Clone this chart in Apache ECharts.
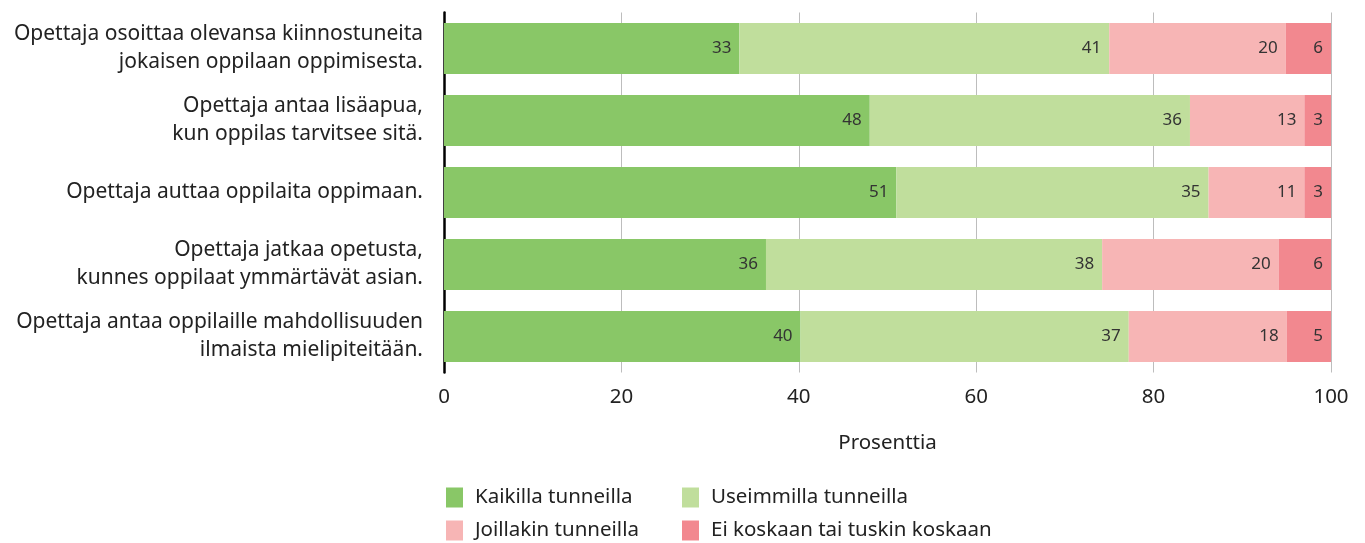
<!DOCTYPE html>
<html><head><meta charset="utf-8">
<script src="https://cdn.jsdelivr.net/npm/echarts@6/dist/echarts.min.js"></script>
<style>html,body{margin:0;padding:0;background:#fff}#c{width:1365px;height:543px}</style>
</head><body><div id="c"></div>
<script>
const categories = [
  'Opettaja osoittaa olevansa kiinnostuneita\njokaisen oppilaan oppimisesta.',
  'Opettaja antaa lisäapua,\nkun oppilas tarvitsee sitä.',
  'Opettaja auttaa oppilaita oppimaan.',
  'Opettaja jatkaa opetusta,\nkunnes oppilaat ymmärtävät asian.',
  'Opettaja antaa oppilaille mahdollisuuden\nilmaista mielipiteitään.'
];
const seriesNames = ['Kaikilla tunneilla','Useimmilla tunneilla','Joillakin tunneilla','Ei koskaan tai tuskin koskaan'];
// bar lengths
const kaikilla   = [33.3, 48.0, 51.0, 36.3, 40.2];
const useimmilla = [41.7, 36.1, 35.2, 37.9, 37.0];
const joillakin  = [19.9, 12.9, 10.8, 19.9, 17.8];
const eiKoskaan  = [5.1, 3.0, 3.0, 5.9, 5.0];
// printed labels
const labKaikilla   = [33, 48, 51, 36, 40];
const labUseimmilla = [41, 36, 35, 38, 37];
const labJoillakin  = [20, 13, 11, 20, 18];
const labEiKoskaan  = [6, 3, 3, 6, 5];
const xTicks = [0, 20, 40, 60, 80, 100];

const colors = ['#89c767','#c0de9c','#f7b5b5','#f2888f'];
const FONT = 'Noto Sans';
const values = [kaikilla, useimmilla, joillakin, eiKoskaan];
const labels = [labKaikilla, labUseimmilla, labJoillakin, labEiKoskaan];
const legendPos = [[446, 487], [682, 487], [446, 520], [682, 520]];

const chart = echarts.init(document.getElementById('c'), null, {renderer:'canvas'});
chart.setOption({
  animation: false,
  textStyle: {fontFamily: FONT},
  grid: {left: 444, right: 34, top: 12.5, bottom: 170.5, containLabel: false},
  legend: seriesNames.map((n, i) => ({
    data: [n], left: legendPos[i][0], top: legendPos[i][1], itemWidth: 17, itemHeight: 20,
    icon: 'rect', padding: 0,
    textStyle: {fontFamily: FONT, fontSize: 20.5, color: '#222', padding: [0,0,0,7]}
  })),
  xAxis: {
    type: 'value', min: 0, max: 100, interval: 20,
    name: 'Prosenttia', nameLocation: 'middle', nameGap: 60,
    nameTextStyle: {fontFamily: FONT, fontSize: 20.5, color: '#222'},
    axisLine: {show: false}, axisTick: {show: false},
    axisLabel: {fontFamily: FONT, fontSize: 20.5, color: '#222', margin: 14,
      formatter: v => xTicks.includes(v) ? String(v) : ''},
    splitLine: {show: true, lineStyle: {color: '#bdbdbd', width: 1}}
  },
  yAxis: {
    type: 'category', data: categories, inverse: true,
    axisLine: {show: true, lineStyle: {color: '#000', width: 2.5}},
    axisTick: {show: false},
    axisLabel: {fontFamily: FONT, fontSize: 21, color: '#222', lineHeight: 28, margin: 21, align: 'right'}
  },
  series: values.map((arr, i) => ({
    name: seriesNames[i], type: 'bar', stack: 'total', barWidth: 51,
    itemStyle: {color: colors[i]},
    label: {show: true, position: 'insideRight', distance: 8, fontFamily: FONT, fontSize: 17, color: '#333',
      formatter: p => String(labels[i][p.dataIndex])},
    data: arr
  }))
});
</script></body></html>
